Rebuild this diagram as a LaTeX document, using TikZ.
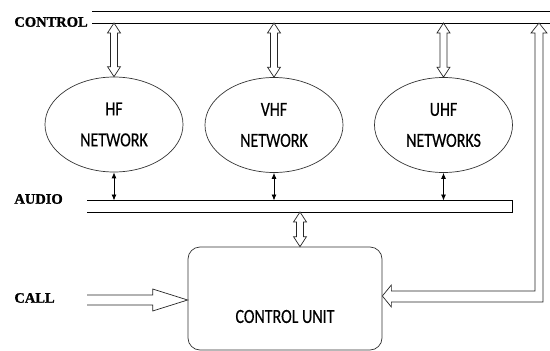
\documentclass[tikz,border=0pt]{standalone}
\usepackage{fontspec}
\usetikzlibrary{shapes.geometric,calc,arrows.meta}
\newfontfamily\calib[FakeStretch=0.8,FakeBold=0.4]{Carlito}
\newfontfamily\labfont[FakeBold=1.2]{Liberation Serif Bold}
\newcommand\hollowv[2]{%
  \draw[hollow] (#1) -- ($(#1)+(6.5,10)$) -- ($(#1)+(3.5,10)$) -- ($(#2)+(3.5,-10)$) -- ($(#2)+(6.5,-10)$) -- (#2)
    -- ($(#2)+(-6.5,-10)$) -- ($(#2)+(-3.5,-10)$) -- ($(#1)+(-3.5,10)$) -- ($(#1)+(-6.5,10)$) -- cycle;}
\begin{document}
\begin{tikzpicture}[x=1pt,y=-1pt,
  line width=0.8pt,
  hollow/.style={draw=black!85,line width=0.7pt,fill=white,line join=miter},
  net/.style={ellipse,draw=black!80,line width=0.7pt,minimum width=138pt,minimum height=95pt,inner sep=0pt,align=center,
    font=\calib\fontsize{20}{31}\selectfont},
  cubox/.style={draw=black!80,line width=0.7pt,rounded corners=12pt,minimum width=194pt,minimum height=103pt,inner sep=0pt},
  cutext/.style={font=\calib\fontsize{20}{24}\selectfont,inner sep=0pt},
  lab/.style={font=\labfont\fontsize{14.5}{16}\selectfont,anchor=west,inner sep=0pt},
  thinarrow/.style={draw=black,line width=0.8pt,{Latex[length=6pt,width=5pt]}-{Latex[length=6pt,width=5pt]}},
  bus/.style={draw=black,line width=0.8pt}]
\useasboundingbox (0,0) rectangle (550,351);

% labels
\node[lab] (lcontrol) at (14,22) {CONTROL};
\node[lab] (laudio) at (14,199) {AUDIO};
\node[lab] (lcall) at (14,298) {CALL};

% control bus
\coordinate (ct1) at (92,11);
\coordinate (ct2) at (550,11);
\coordinate (cb1) at (92,23);
\coordinate (cb2) at (550,23);
\draw[bus] (ct1) -- (ct2);
\draw[bus] (cb1) -- (cb2);

% networks
\node[net] (hf) at (114,124.5) {HF\\NETWORK};
\node[net] (vhf) at (274,125) {VHF\\NETWORK};
\node[net] (uhf) at (443.5,125) {UHF\\NETWORKS};

% audio bus
\coordinate (at1) at (87,200.5);
\coordinate (at2) at (512,200.5);
\coordinate (ab2) at (512,212);
\coordinate (ab1) at (87,212);
\draw[bus] (at1) -- (at2) -- (ab2) -- (ab1);

% control unit
\node[cubox] (cu) at (285,298.5) {};
\node[cutext] (cut) at ($(cu.center)+(0,18)$) {CONTROL UNIT};

% control <-> networks
\hollowv{hf.north |- cb1}{hf.north}
\hollowv{vhf.north |- cb1}{vhf.north}
\hollowv{uhf.north |- cb1}{uhf.north}

% networks <-> audio
\draw[thinarrow] (hf.south) -- (hf.south |- at1);
\draw[thinarrow] (vhf.south) -- (vhf.south |- at1);
\draw[thinarrow] (uhf.south) -- (uhf.south |- at1);

% audio <-> control unit
\coordinate (au) at (300,212);
\hollowv{au}{au |- cu.north}

% call arrow
\coordinate (cs) at (87,300);
\coordinate (ce) at (cu.west |- cs);
\draw[hollow] ($(cs)+(0,-5)$) -- ($(ce)+(-35,-5)$) -- ($(ce)+(-35,-11)$) -- (ce) -- ($(ce)+(-35,11)$) -- ($(ce)+(-35,5)$) -- ($(cs)+(0,5)$);

% return arrow from control bus to control unit
\coordinate (rt) at (539,23);
\coordinate (rl) at (cu.east |- 0,296);
\draw[hollow] (rt) -- ($(rt)+(8,10)$) -- ($(rt)+(4,10)$) -- ($(rt)+(4,279)$) -- ($(rl)+(9,6)$) -- ($(rl)+(9,11)$) -- (rl)
  -- ($(rl)+(9,-11)$) -- ($(rl)+(9,-5)$) -- ($(rt)+(-4,268)$) -- ($(rt)+(-4,10)$) -- ($(rt)+(-8,10)$) -- cycle;
\end{tikzpicture}
\end{document}
